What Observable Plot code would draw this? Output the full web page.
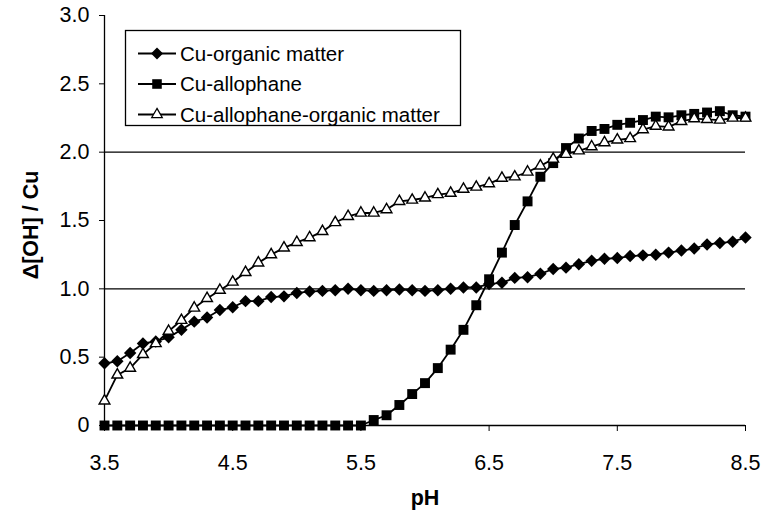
<!DOCTYPE html>
<html><head><meta charset="utf-8">
<script src="https://cdn.jsdelivr.net/npm/d3@7"></script>
<script src="https://cdn.jsdelivr.net/npm/@observablehq/plot@0.6"></script>
<style>
body{margin:0;background:#fff;}
#chart{position:relative;width:762px;height:512px;}
</style></head><body><div id="chart"></div>
<script>
// ---- data ----
const pH = [3.5,3.6,3.7,3.8,3.9,4.0,4.1,4.2,4.3,4.4,4.5,4.6,4.7,4.8,4.9,5.0,5.1,5.2,5.3,5.4,5.5,5.6,5.7,5.8,5.9,6.0,6.1,6.2,6.3,6.4,6.5,6.6,6.7,6.8,6.9,7.0,7.1,7.2,7.3,7.4,7.5,7.6,7.7,7.8,7.9,8.0,8.1,8.2,8.3,8.4,8.5];
const cuOrganic = [0.455,0.47,0.53,0.60,0.615,0.645,0.70,0.76,0.79,0.845,0.865,0.91,0.91,0.94,0.945,0.97,0.98,0.985,0.99,1.00,0.99,0.985,0.99,0.995,0.99,0.985,0.99,1.00,1.01,1.01,1.035,1.045,1.08,1.085,1.11,1.145,1.155,1.18,1.205,1.22,1.225,1.24,1.245,1.25,1.265,1.28,1.295,1.325,1.335,1.345,1.375];
const cuAllophane = [0,0,0,0,0,0,0,0,0,0,0,0,0,0,0,0,0,0,0,0,0,0.04,0.075,0.15,0.23,0.31,0.42,0.555,0.70,0.88,1.07,1.265,1.467,1.64,1.82,1.92,2.03,2.10,2.155,2.17,2.20,2.215,2.235,2.26,2.255,2.27,2.28,2.29,2.30,2.27,2.26];
const cuAllophaneOrganic = [0.18,0.37,0.42,0.52,0.60,0.69,0.77,0.86,0.93,0.99,1.05,1.12,1.19,1.25,1.30,1.34,1.375,1.42,1.485,1.53,1.555,1.555,1.58,1.64,1.65,1.665,1.69,1.70,1.73,1.745,1.77,1.81,1.82,1.855,1.90,1.95,1.985,2.01,2.04,2.07,2.09,2.10,2.165,2.19,2.185,2.225,2.245,2.24,2.235,2.25,2.25];
const seriesNames = ["Cu-organic matter","Cu-allophane","Cu-allophane-organic matter"];
const xTicks = [3.5,4.5,5.5,6.5,7.5,8.5];
const yTicks = [0,0.5,1.0,1.5,2.0,2.5,3.0];
const gridValues = [1.0,2.0];
const xTitle = "pH";
const yTitle = "Δ[OH] / Cu";

// ---- build ----
const FONT = "'Liberation Sans', Arial, sans-serif";
const FS = 20.5;      // legend
const FT = 21.5;      // ticks & titles
const rowsOf = (vals) => pH.map((p,i)=>({pH:p, value:vals[i]}));
const rOrg = rowsOf(cuOrganic), rAll = rowsOf(cuAllophane), rMix = rowsOf(cuAllophaneOrganic);

const chart = Plot.plot({
  width: 762, height: 512,
  marginLeft: 104, marginRight: 17, marginTop: 15, marginBottom: 87,
  style: {fontFamily: FONT, fontSize: FT + "px", background: "white", color: "black", overflow: "visible"},
  x: {domain: [3.5, 8.5], ticks: xTicks, tickFormat: d => d.toFixed(1), tickSize: 6, tickPadding: 23, label: null},
  y: {domain: [0, 3], ticks: yTicks, tickFormat: d => d === 0 ? "0" : d.toFixed(1), tickSize: 5, tickPadding: 10, label: null},
  marks: [
    Plot.ruleY(gridValues, {stroke: "black", strokeWidth: 1.3}),
    Plot.ruleX([3.5], {stroke: "black", strokeWidth: 1.3}),
    Plot.ruleY([0], {stroke: "black", strokeWidth: 1.3}),
    Plot.line(rOrg, {x: "pH", y: "value", stroke: "black", strokeWidth: 1.8}),
    Plot.dot(rOrg, {x: "pH", y: "value", symbol: "diamond2", r: 5.6, fill: "black", stroke: "none"}),
    Plot.line(rAll, {x: "pH", y: "value", stroke: "black", strokeWidth: 1.8}),
    Plot.dot(rAll, {x: "pH", y: "value", symbol: "square", r: 5.6, fill: "black", stroke: "none"}),
    Plot.line(rMix, {x: "pH", y: "value", stroke: "black", strokeWidth: 1.8}),
    Plot.dot(rMix, {x: "pH", y: "value", symbol: "triangle", r: 4.0, fill: "white", stroke: "black", strokeWidth: 1.4})
  ]
});
document.getElementById("chart").appendChild(chart);

const svg = d3.select(chart);
// axis titles
svg.append("text").attr("x", 425).attr("y", 505).attr("text-anchor", "middle")
  .attr("font-weight", "bold").attr("font-size", FT).attr("font-family", FONT).attr("fill", "black").text(xTitle);
svg.append("text").attr("transform", "translate(38,225) rotate(-90)").attr("text-anchor", "middle")
  .attr("font-weight", "bold").attr("font-size", FT).attr("font-family", FONT).attr("fill", "black").text(yTitle);

// legend
const lg = svg.append("g").attr("text-anchor", "start");
lg.append("rect").attr("x", 125.5).attr("y", 30.5).attr("width", 335).attr("height", 95)
  .attr("fill", "white").attr("stroke", "black").attr("stroke-width", 1.3);
const legendY = [53.5, 84, 114.5];
const symbols = [
  {type: d3.symbolDiamond2, size: Math.PI*5.4*5.4, fill: "black", stroke: "none"},
  {type: d3.symbolSquare, size: Math.PI*5.4*5.4, fill: "black", stroke: "none"},
  {type: d3.symbolTriangle, size: Math.PI*3.9*3.9, fill: "white", stroke: "black"}
];
seriesNames.forEach((name, i) => {
  const y = legendY[i];
  lg.append("line").attr("x1", 138).attr("x2", 176).attr("y1", y).attr("y2", y).attr("stroke", "black").attr("stroke-width", 1.8);
  const s = symbols[i];
  lg.append("path").attr("transform", `translate(157,${y})`).attr("d", d3.symbol(s.type, s.size)())
    .attr("fill", s.fill).attr("stroke", s.stroke).attr("stroke-width", 1.3);
  lg.append("text").attr("x", 180).attr("y", y).attr("dy", "0.35em").attr("text-anchor", "start").attr("font-size", FS)
    .attr("font-family", FONT).attr("fill", "black").text(name);
});
</script></body></html>
